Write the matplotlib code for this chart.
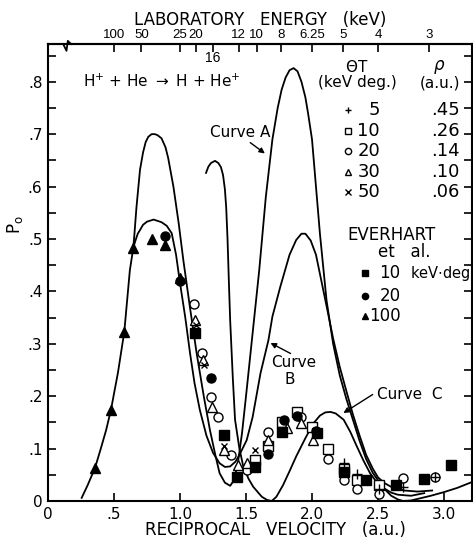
import numpy as np
import matplotlib
matplotlib.use("Agg")
import matplotlib.pyplot as plt

# theory curves (reciprocal velocity a.u., probability)
curveA_x = [0.646, 0.655, 0.67, 0.685, 0.697, 0.72, 0.74, 0.76, 0.785, 0.81, 0.83, 0.86, 0.89, 0.91, 0.95,
            0.99, 1.025, 1.075, 1.126, 1.18, 1.227, 1.27, 1.30, 1.34, 1.38, 1.41, 1.44, 1.47, 1.50, 1.55,
            1.60, 1.65, 1.70, 1.74, 1.77, 1.80, 1.83, 1.86, 1.89, 1.92, 1.95, 1.97, 2.00, 2.03, 2.06,
            2.11, 2.16, 2.21, 2.26, 2.31, 2.36, 2.41, 2.46, 2.515, 2.56, 2.60, 2.65, 2.69, 2.75, 2.80,
            2.90, 3.00, 3.10, 3.21]
curveA_y = [0.483, 0.51, 0.56, 0.60, 0.632, 0.665, 0.685, 0.695, 0.700, 0.700, 0.698, 0.692, 0.675, 0.655, 0.60,
            0.53, 0.46, 0.37, 0.282, 0.20, 0.135, 0.085, 0.053, 0.035, 0.029, 0.04, 0.075, 0.13, 0.20, 0.32,
            0.44, 0.58, 0.69, 0.75, 0.785, 0.808, 0.822, 0.826, 0.82, 0.80, 0.77, 0.74, 0.69, 0.60, 0.51,
            0.383, 0.30, 0.24, 0.195, 0.155, 0.115, 0.08, 0.054, 0.034, 0.02, 0.01, 0.003, 0.0, 0.001, 0.004,
            0.01, 0.017, 0.025, 0.036]

curveB_x = [0.255, 0.30, 0.356, 0.40, 0.44, 0.477, 0.53, 0.578, 0.62, 0.646, 0.66, 0.68, 0.697, 0.72, 0.75,
            0.80, 0.86, 0.90, 0.937, 0.97, 1.0, 1.04, 1.076, 1.11, 1.15, 1.20, 1.25, 1.30, 1.34, 1.38,
            1.42, 1.45, 1.505, 1.55, 1.61, 1.67, 1.70, 1.76, 1.83, 1.88, 1.92, 1.95, 1.99, 2.03, 2.08,
            2.12, 2.16, 2.21, 2.26, 2.31, 2.36, 2.41, 2.46, 2.50, 2.55, 2.60, 2.65, 2.70, 2.80, 2.91]
curveB_y = [0.006, 0.03, 0.063, 0.10, 0.135, 0.174, 0.245, 0.323, 0.44, 0.483, 0.495, 0.51, 0.517, 0.527, 0.533,
            0.537, 0.532, 0.525, 0.511, 0.47, 0.416, 0.35, 0.282, 0.225, 0.174, 0.125, 0.092, 0.072, 0.065, 0.066,
            0.075, 0.088, 0.116, 0.16, 0.244, 0.307, 0.352, 0.409, 0.470, 0.498, 0.510, 0.51, 0.497, 0.47, 0.409,
            0.36, 0.31, 0.256, 0.21, 0.165, 0.125, 0.088, 0.062, 0.045, 0.034, 0.027, 0.023, 0.02, 0.018, 0.02]

curveC_x = [1.197, 1.215, 1.235, 1.265, 1.29, 1.31, 1.326, 1.34, 1.35, 1.36, 1.37, 1.38, 1.40, 1.417, 1.45,
            1.48, 1.52, 1.555, 1.62, 1.66, 1.695, 1.73, 1.78, 1.83, 1.88, 1.95, 2.01, 2.06, 2.10, 2.14,
            2.18, 2.24, 2.29, 2.34, 2.39, 2.44, 2.49, 2.54, 2.60, 2.65, 2.75, 2.85]
curveC_y = [0.626, 0.638, 0.645, 0.649, 0.645, 0.637, 0.622, 0.595, 0.56, 0.50, 0.42, 0.345, 0.235, 0.155, 0.10,
            0.065, 0.042, 0.027, 0.008, 0.002, 0.0, 0.008, 0.03, 0.057, 0.085, 0.12, 0.148, 0.163, 0.169, 0.170,
            0.167, 0.155, 0.132, 0.104, 0.077, 0.053, 0.036, 0.025, 0.016, 0.012, 0.01, 0.015]

# present data, theta*T in keV deg
t5_x = [2.24, 2.34, 2.51, 2.69, 2.93]
t5_y = [0.072, 0.051, 0.022, 0.027, 0.046]
t10_x = [1.568, 1.67, 1.77, 1.884, 1.997, 2.12, 2.24, 2.34, 2.51]
t10_y = [0.078, 0.104, 0.151, 0.170, 0.142, 0.10, 0.062, 0.04, 0.031]
t20_x = [1.108, 1.164, 1.235, 1.29, 1.39, 1.505, 1.67, 1.914, 2.12, 2.24, 2.34, 2.51, 2.69, 2.93]
t20_y = [0.376, 0.282, 0.199, 0.161, 0.088, 0.059, 0.132, 0.16, 0.081, 0.041, 0.022, 0.013, 0.043, 0.046]
t30_x = [1.114, 1.176, 1.24, 1.333, 1.44, 1.505, 1.67, 1.81, 1.914, 2.005]
t30_y = [0.345, 0.269, 0.18, 0.098, 0.069, 0.072, 0.117, 0.14, 0.148, 0.116]
t50_x = [1.12, 1.18, 1.333, 1.568]
t50_y = [0.335, 0.26, 0.104, 0.097]

# Everhart et al.
ev10_x = [1.114, 1.333, 1.43, 1.568, 1.775, 2.04, 2.24, 2.41, 2.64, 2.85, 3.05]
ev10_y = [0.32, 0.126, 0.045, 0.065, 0.132, 0.129, 0.055, 0.04, 0.031, 0.042, 0.069]
ev20_x = [0.89, 1.0, 1.235, 1.67, 1.785, 1.884, 2.03]
ev20_y = [0.505, 0.419, 0.235, 0.09, 0.155, 0.163, 0.133]
ev100_x = [0.356, 0.477, 0.578, 0.646, 0.79, 0.89, 1.0]
ev100_y = [0.063, 0.174, 0.323, 0.483, 0.50, 0.489, 0.425]

energies = [100, 50, 25, 20, 16, 12, 10, 8, 6.25, 5, 4, 3]
energy_labels = ["100", "50", "25", "20", "", "12", "10", "8", "6.25", "5", "4", "3"]

theta_T = ["5", "10", "20", "30", "50"]
rho = [".45", ".26", ".14", ".10", ".06"]

fs = 11
fig = plt.figure(figsize=(4.73, 5.45), dpi=100)
ax = fig.add_axes([48/473, 44/545, 424/473, 457/545])
ax.set_xlim(0, 3.212)
ax.set_ylim(0, 0.872)

lw = 1.3
ax.plot(curveA_x, curveA_y, color='black', lw=lw)
ax.plot(curveB_x, curveB_y, color='black', lw=lw)
ax.plot(curveC_x, curveC_y, color='black', lw=lw)

ms = 6.5
op = dict(ls='none', color='black', mfc='white', mec='black', mew=1.0, ms=ms, zorder=3)
ax.plot(t10_x, t10_y, marker='s', **op)
ax.plot(t20_x, t20_y, marker='o', **op)
ax.plot(t30_x, t30_y, marker='^', **op)
ax.plot(t50_x, t50_y, marker='x', ls='none', color='black', mew=1.0, ms=5, zorder=4)
ax.plot(t5_x, t5_y, marker='+', ls='none', color='black', mew=1.0, ms=7, zorder=4)
fl = dict(ls='none', color='black', ms=ms, zorder=4)
ax.plot(ev10_x, ev10_y, marker='s', **fl)
ax.plot(ev20_x, ev20_y, marker='o', **fl)
ax.plot(ev100_x, ev100_y, marker='^', **fl)

# axes styling
for s in ax.spines.values():
    s.set_linewidth(1.5)
ax.set_xticks([0, 0.5, 1.0, 1.5, 2.0, 2.5, 3.0])
ax.set_xticklabels(["0", ".5", "1.0", "1.5", "2.0", "2.5", "3.0"])
ax.set_yticks(np.arange(0, 0.81, 0.1))
ax.set_yticklabels(["0", ".1", ".2", ".3", ".4", ".5", ".6", ".7", ".8"])
ax.set_yticks(np.arange(0.05, 0.86, 0.1), minor=True)
ax.tick_params(which='both', direction='in', length=6, width=1.2, labelsize=fs,
               top=False, right=True, pad=4)

sec = ax.secondary_xaxis('top')
sec.set_xticks(5/np.sqrt(np.array(energies)))
sec.set_xticklabels(energy_labels, fontfamily='Liberation Sans', fontsize=9.5)
sec.tick_params(direction='in', length=6, width=1.2, pad=2)
sec.spines['top'].set_linewidth(1.5)
ax.text(5/np.sqrt(16), 0.845, "16", ha='center', va='center', fontsize=10,
        family='Liberation Sans')

fig.text(0.55, 0.963, "LABORATORY   ENERGY   (keV)", ha='center', va='center', fontsize=fs+1)
fig.text(0.582, 0.028, "RECIPROCAL   VELOCITY   (a.u.)", ha='center', va='center', fontsize=fs+1)
fig.text(15/473, 1-225/545, r"P$_\mathrm{o}$", rotation=90, ha='center', va='center', fontsize=fs+1)

# break mark on the top axis
top = 0.872
ax.plot([0.115, 0.14, 0.15, 0.175], [top, top - 0.013, top + 0.006, top], color='black',
        lw=1.3, clip_on=False)

ax.text(0.865, 0.80, r"H$^{+}$ + He $\rightarrow$ H + He$^{+}$", ha='center', va='center', fontsize=fs)

# present-work legend
ax.text(2.34, 0.828, r"$\Theta$T", ha='center', va='center', fontsize=fs)
ax.text(2.34, 0.798, "(keV deg.)", ha='center', va='center', fontsize=fs)
ax.text(2.96, 0.828, r"$\rho$", ha='center', va='center', fontsize=fs + 1)
ax.text(2.97, 0.798, "(a.u.)", ha='center', va='center', fontsize=fs)
leg_marks = ['+', 's', 'o', '^', 'x']
row_y = [0.746, 0.706, 0.668, 0.628, 0.590]
for m, lab, r, yy in zip(leg_marks, theta_T, rho, row_y):
    if m in ['+', 'x']:
        ax.plot(2.27, yy, marker=m, color='black', mew=1.0, ms=5)
    else:
        ax.plot(2.27, yy, marker=m, color='black', mfc='white', mew=1.0, ms=4.5)
    ax.text(2.515, yy, lab, ha='right', va='center', fontsize=fs + 2)
    ax.text(3.12, yy, r, ha='right', va='center', fontsize=fs + 2)

# Everhart legend
ax.text(2.60, 0.508, "EVERHART", ha='center', va='center', fontsize=fs + 1)
ax.text(2.70, 0.475, "et   al.", ha='center', va='center', fontsize=fs + 1)
ev_marks = ['s', 'o', '^']
ev_labels = ["10", "20", "100"]
ev_y = [0.435, 0.391, 0.353]
for m, lab, yy in zip(ev_marks, ev_labels, ev_y):
    ax.plot(2.40, yy, marker=m, color='black', ms=4.5)
    ax.text(2.67, yy, lab, ha='right', va='center', fontsize=fs + 1)
ax.text(2.74, ev_y[0], "keV$\\cdot$deg", ha='left', va='center', fontsize=fs - 0.5)

# curve labels
arr = dict(arrowstyle='-|>', color='black', lw=1.0, mutation_scale=8)
ax.text(1.227, 0.704, "Curve A", ha='left', va='center', fontsize=fs)
ax.annotate("", xy=(1.66, 0.66), xytext=(1.515, 0.687), arrowprops=arr)
ax.text(1.86, 0.265, "Curve", ha='center', va='center', fontsize=fs)
ax.text(1.83, 0.231, "B", ha='center', va='center', fontsize=fs)
ax.annotate("", xy=(1.667, 0.304), xytext=(1.856, 0.279), arrowprops=arr)
ax.text(2.49, 0.204, "Curve  C", ha='left', va='center', fontsize=fs)
ax.annotate("", xy=(2.22, 0.165), xytext=(2.477, 0.206), arrowprops=arr)

fig.savefig("out.png", dpi=100)
